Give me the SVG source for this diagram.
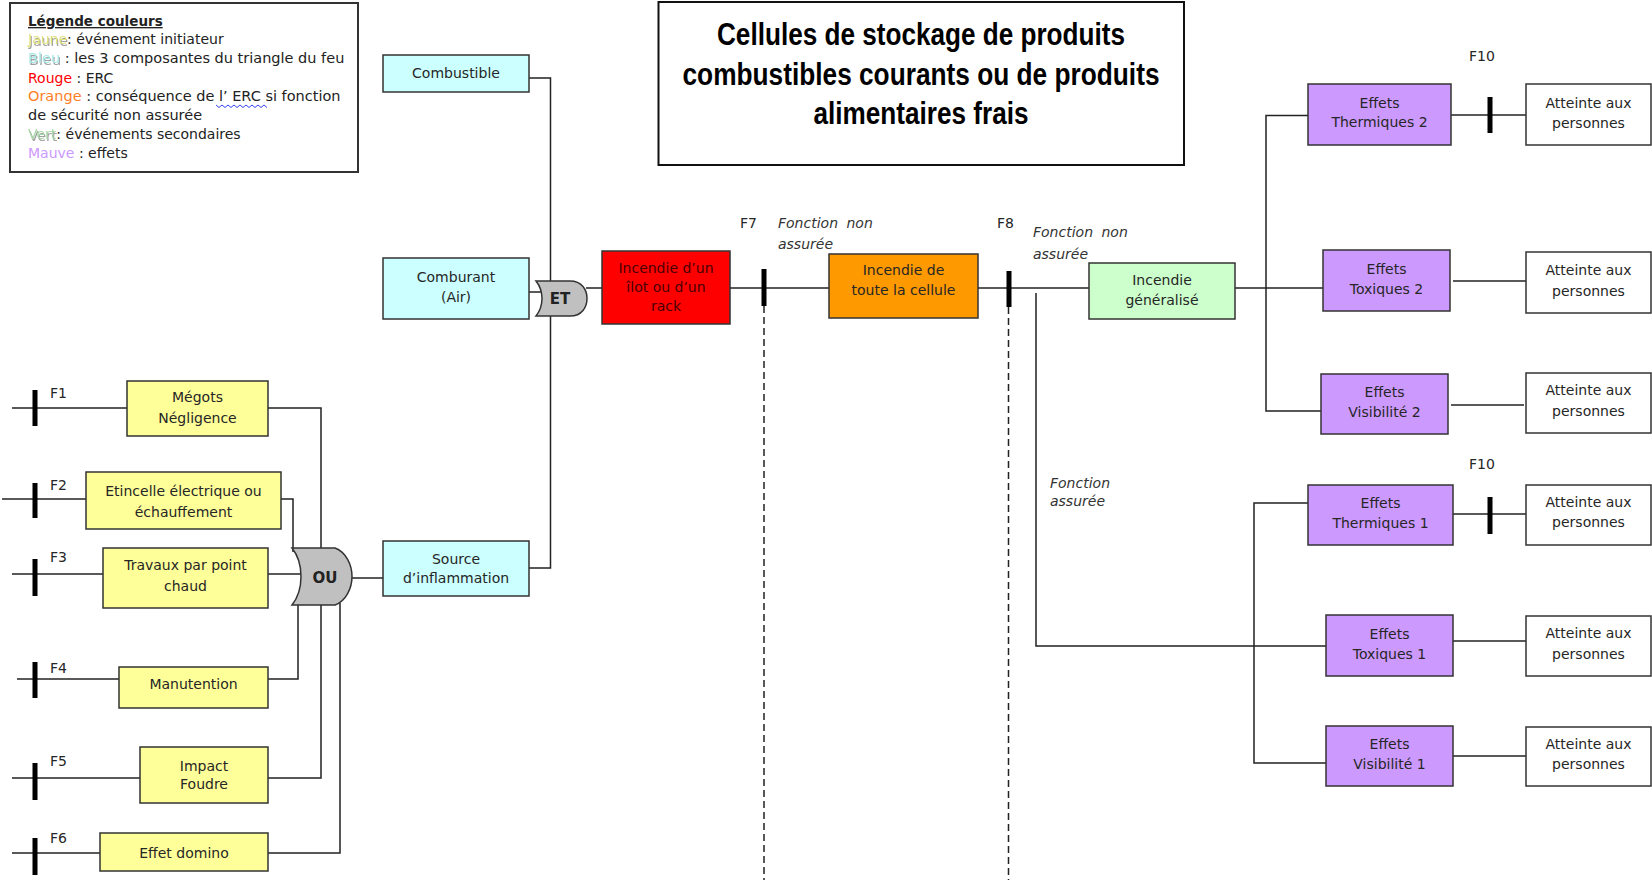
<svg xmlns="http://www.w3.org/2000/svg" width="1652" height="880" viewBox="0 0 1652 880">
<defs>
<style>
.bx{stroke:#333;stroke-width:1.5}
.cy{fill:#ccffff}.ye{fill:#ffff99}.rd{fill:#ff0000}.or{fill:#ff9900}.gr{fill:#ccffcc}.pu{fill:#cc99ff}.wh{fill:#ffffff}
.t{font-family:"DejaVu Sans","Liberation Sans",sans-serif;font-size:14px;fill:#262626;text-anchor:middle}
.lb{font-family:"DejaVu Sans","Liberation Sans",sans-serif;font-size:14px;fill:#262626}
.it{font-family:"DejaVu Sans","Liberation Sans",sans-serif;font-size:14px;font-style:italic;fill:#333;word-spacing:4px}
.cn{fill:none;stroke:#222;stroke-width:1.5}
.dash{fill:none;stroke:#222;stroke-width:1.5;stroke-dasharray:7 4}
.bar{fill:#000}
.gate{fill:#c0c0c0;stroke:#333;stroke-width:1.5}
.gt{font-family:"DejaVu Sans","Liberation Sans",sans-serif;font-size:15px;font-weight:bold;fill:#222;text-anchor:middle}
.ttl{font-family:"Liberation Sans Narrow","Liberation Sans",Arial,sans-serif;font-size:31px;font-weight:bold;fill:#000;text-anchor:middle}
.lg{font-family:"DejaVu Sans","Liberation Sans",sans-serif;font-size:14px;fill:#222}
.rt{fill:#4a0000}
</style>
<filter id="sh" x="-10%" y="-30%" width="130%" height="180%">
<feDropShadow dx="1" dy="2" stdDeviation="0.6" flood-color="#888" flood-opacity="0.8"/>
</filter>
</defs>
<rect width="1652" height="880" fill="#fff"/>

<g id="legend">
<rect x="10" y="3" width="348" height="169" fill="#fff" stroke="#333" stroke-width="2"/>
<text x="28" y="26" class="lg" style="font-weight:bold;text-decoration:underline;font-size:13.5px">Légende couleurs</text>
<text x="28" y="44" class="lg"><tspan fill="#e2e27a" filter="url(#sh)">Jaune</tspan>: événement initiateur</text>
<text x="28" y="63" class="lg" style="font-size:14.5px"><tspan fill="#a8e8e8" filter="url(#sh)">Bleu</tspan> : les 3 composantes du triangle du feu</text>
<text x="28" y="83" class="lg"><tspan fill="#ff0000">Rouge</tspan> : ERC</text>
<text x="28" y="101" class="lg" style="font-size:14.5px"><tspan fill="#ff7f27">Orange</tspan> : conséquence de l’ ERC si fonction</text>
<text x="28" y="120" class="lg" style="font-size:14.5px">de sécurité non assurée</text>
<text x="28" y="139" class="lg"><tspan fill="#a8d8a8" filter="url(#sh)">Vert</tspan>: événements secondaires</text>
<text x="28" y="158" class="lg"><tspan fill="#cc99ff">Mauve</tspan> : effets</text>
<polyline points="216,105 219,107.5 222,105 225,107.5 228,105 231,107.5 234,105 237,107.5 240,105 243,107.5 246,105 249,107.5 252,105 255,107.5 258,105 261,107.5 264,105 267,107.5" fill="none" stroke="#3344ee" stroke-width="1"/>
</g>

<g id="title">
<rect x="658.5" y="2" width="525.5" height="163" fill="#fff" stroke="#111" stroke-width="2"/>
<text class="ttl" x="921" y="45" textLength="408" lengthAdjust="spacingAndGlyphs">Cellules de stockage de produits</text>
<text class="ttl" x="921" y="85" textLength="477" lengthAdjust="spacingAndGlyphs">combustibles courants ou de produits</text>
<text class="ttl" x="921" y="124" textLength="215" lengthAdjust="spacingAndGlyphs">alimentaires frais</text>
</g>

<g id="connectors">
<path class="cn" d="M529,78 H550.5 V568 H529"/>
<path class="cn" d="M529,292 H541"/>
<path class="cn" d="M586,288 H602"/>
<path class="cn" d="M730,288 H829"/>
<path class="cn" d="M978,288 H1089"/>
<path class="cn" d="M1235,288 H1323"/>
<path class="cn" d="M1308,115.5 H1266 V411 H1321"/>
<path class="cn" d="M1451,115 H1526"/>
<path class="cn" d="M1453,281 H1526"/>
<path class="cn" d="M1451,405 H1524"/>
<path class="cn" d="M1036,293 V646 H1326"/>
<path class="cn" d="M1308,503 H1254 V763 H1326"/>
<path class="cn" d="M1453,514 H1526"/>
<path class="cn" d="M1453,641 H1526"/>
<path class="cn" d="M1453,756 H1526"/>
<path class="dash" d="M764,306 V880"/>
<path class="dash" d="M1008.5,307 V880"/>
<path class="cn" d="M12,408 H127"/>
<path class="cn" d="M2,499 H86"/>
<path class="cn" d="M12,574 H103"/>
<path class="cn" d="M17,679 H119"/>
<path class="cn" d="M12,778 H140"/>
<path class="cn" d="M12,853 H100"/>
<path class="cn" d="M268,408 H321 V778 H268"/>
<path class="cn" d="M281,499 H293 V552"/>
<path class="cn" d="M268,574 H302"/>
<path class="cn" d="M268,679 H298 V603"/>
<path class="cn" d="M268,853 H340 V603"/>
<path class="cn" d="M350,578 H383"/>
<rect class="bar" x="32.5" y="390" width="5" height="36"/>
<rect class="bar" x="32.5" y="483" width="5" height="35"/>
<rect class="bar" x="32.5" y="559" width="5" height="37"/>
<rect class="bar" x="32.5" y="662" width="5" height="36"/>
<rect class="bar" x="32.5" y="763" width="5" height="37"/>
<rect class="bar" x="32.5" y="838" width="5" height="37"/>
<rect class="bar" x="761.5" y="269" width="5" height="37"/>
<rect class="bar" x="1006.5" y="271" width="5" height="36"/>
<rect class="bar" x="1487.5" y="97" width="5" height="36"/>
<rect class="bar" x="1487.5" y="497" width="5" height="37"/>
</g>

<g id="labels">
<text class="lb" x="50" y="398">F1</text>
<text class="lb" x="50" y="490">F2</text>
<text class="lb" x="50" y="562">F3</text>
<text class="lb" x="50" y="673">F4</text>
<text class="lb" x="50" y="766">F5</text>
<text class="lb" x="50" y="843">F6</text>
<text class="lb" x="740" y="228">F7</text>
<text class="it" x="778" y="228">Fonction non</text>
<text class="it" x="778" y="249">assurée</text>
<text class="lb" x="997" y="228">F8</text>
<text class="it" x="1033" y="237">Fonction non</text>
<text class="it" x="1033" y="259">assurée</text>
<text class="it" x="1050" y="488">Fonction</text>
<text class="it" x="1050" y="506">assurée</text>
<text class="lb" x="1469" y="61">F10</text>
<text class="lb" x="1469" y="469">F10</text>
</g>

<g id="n-combustible"><rect class="bx cy" x="383" y="55" width="146" height="37"/><text class="t" x="456" y="78">Combustible</text></g>
<g id="n-comburant"><rect class="bx cy" x="383" y="258" width="146" height="61"/><text class="t" x="456" y="282">Comburant</text><text class="t" x="456" y="302">(Air)</text></g>
<g id="n-source"><rect class="bx cy" x="383" y="541" width="146" height="55"/><text class="t" x="456" y="564">Source</text><text class="t" x="456" y="583">d’inflammation</text></g>

<g id="g-et"><path class="gate" d="M536,281 H570 C582,281 587,290 587,298.5 C587,307 582,316 570,316 H536 C544,306 544,291 536,281 Z"/><text class="gt" x="560" y="304">ET</text></g>

<g id="n-ilot"><rect class="bx rd" x="602" y="251" width="128" height="73"/><text class="t rt" x="666" y="273">Incendie d’un</text><text class="t rt" x="666" y="292">îlot ou d’un</text><text class="t rt" x="666" y="311">rack</text></g>
<g id="n-cellule"><rect class="bx or" x="829" y="254" width="149" height="64"/><text class="t" x="903.5" y="275">Incendie de</text><text class="t" x="903.5" y="295">toute la cellule</text></g>
<g id="n-generalise"><rect class="bx gr" x="1089" y="263" width="146" height="56"/><text class="t" x="1162" y="285">Incendie</text><text class="t" x="1162" y="305">généralisé</text></g>

<g id="n-th2"><rect class="bx pu" x="1308" y="84" width="143" height="61"/><text class="t" x="1379.5" y="108">Effets</text><text class="t" x="1379.5" y="127">Thermiques 2</text></g>
<g id="n-tx2"><rect class="bx pu" x="1323" y="250" width="127" height="61"/><text class="t" x="1386.5" y="274">Effets</text><text class="t" x="1386.5" y="294">Toxiques 2</text></g>
<g id="n-vi2"><rect class="bx pu" x="1321" y="374" width="127" height="60"/><text class="t" x="1384.5" y="397">Effets</text><text class="t" x="1384.5" y="417">Visibilité 2</text></g>
<g id="n-th1"><rect class="bx pu" x="1308" y="485" width="145" height="60"/><text class="t" x="1380.5" y="508">Effets</text><text class="t" x="1380.5" y="528">Thermiques 1</text></g>
<g id="n-tx1"><rect class="bx pu" x="1326" y="615" width="127" height="61"/><text class="t" x="1389.5" y="639">Effets</text><text class="t" x="1389.5" y="659">Toxiques 1</text></g>
<g id="n-vi1"><rect class="bx pu" x="1326" y="726" width="127" height="60"/><text class="t" x="1389.5" y="749">Effets</text><text class="t" x="1389.5" y="769">Visibilité 1</text></g>

<g id="n-att1"><rect class="bx wh" x="1526" y="84" width="125" height="61"/><text class="t" x="1588.5" y="108">Atteinte aux</text><text class="t" x="1588.5" y="128">personnes</text></g>
<g id="n-att2"><rect class="bx wh" x="1526" y="252" width="125" height="61"/><text class="t" x="1588.5" y="275">Atteinte aux</text><text class="t" x="1588.5" y="296">personnes</text></g>
<g id="n-att3"><rect class="bx wh" x="1526" y="373" width="125" height="60"/><text class="t" x="1588.5" y="395">Atteinte aux</text><text class="t" x="1588.5" y="416">personnes</text></g>
<g id="n-att4"><rect class="bx wh" x="1526" y="485" width="125" height="60"/><text class="t" x="1588.5" y="507">Atteinte aux</text><text class="t" x="1588.5" y="527">personnes</text></g>
<g id="n-att5"><rect class="bx wh" x="1526" y="616" width="125" height="60"/><text class="t" x="1588.5" y="638">Atteinte aux</text><text class="t" x="1588.5" y="659">personnes</text></g>
<g id="n-att6"><rect class="bx wh" x="1526" y="727" width="125" height="59"/><text class="t" x="1588.5" y="749">Atteinte aux</text><text class="t" x="1588.5" y="769">personnes</text></g>

<g id="n-megots"><rect class="bx ye" x="127" y="381" width="141" height="55"/><text class="t" x="197.5" y="402">Mégots</text><text class="t" x="197.5" y="423">Négligence</text></g>
<g id="n-etincelle"><rect class="bx ye" x="86" y="472" width="195" height="57"/><text class="t" x="183.5" y="496">Etincelle électrique ou</text><text class="t" x="183.5" y="517">échauffement</text></g>
<g id="n-travaux"><rect class="bx ye" x="103" y="548" width="165" height="60"/><text class="t" x="185.5" y="570">Travaux par point</text><text class="t" x="185.5" y="591">chaud</text></g>
<g id="n-manutention"><rect class="bx ye" x="119" y="667" width="149" height="41"/><text class="t" x="193.5" y="689">Manutention</text></g>
<g id="n-foudre"><rect class="bx ye" x="140" y="747" width="128" height="56"/><text class="t" x="204" y="771">Impact</text><text class="t" x="204" y="789">Foudre</text></g>
<g id="n-domino"><rect class="bx ye" x="100" y="833" width="168" height="38"/><text class="t" x="184" y="858">Effet domino</text></g>

<g id="g-ou"><path class="gate" d="M292,548 H335 C346,552 352,565 352,576.5 C352,588 346,601 335,605 H292 C304,590 304,563 292,548 Z"/><text class="gt" x="325" y="583">OU</text></g>
</svg>
